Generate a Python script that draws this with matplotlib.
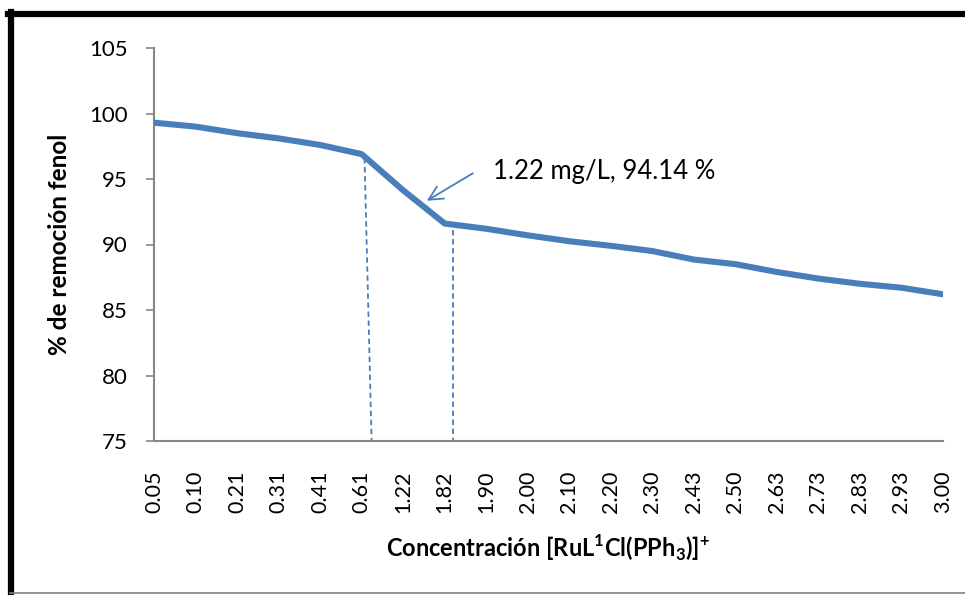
import matplotlib
matplotlib.use("Agg")
import matplotlib.pyplot as plt
from matplotlib.lines import Line2D

plt.rcParams['font.family'] = ['Lato', 'DejaVu Sans']
plt.rcParams['mathtext.fontset'] = 'custom'
plt.rcParams['mathtext.rm'] = 'Lato'
plt.rcParams['mathtext.bf'] = 'Lato:bold'

categories = ["0.05", "0.10", "0.21", "0.31", "0.41", "0.61", "1.22", "1.82", "1.90", "2.00",
              "2.10", "2.20", "2.30", "2.43", "2.50", "2.63", "2.73", "2.83", "2.93", "3.00"]
removal = [99.3, 99.0, 98.5, 98.1, 97.6, 96.9, 94.14, 91.6, 91.2, 90.7,
           90.25, 89.9, 89.5, 88.85, 88.5, 87.9, 87.4, 87.0, 86.7, 86.2]
y_ticks = [75, 80, 85, 90, 95, 100, 105]
annot_text = "1.22 mg/L, 94.14 %"

W, H = 965, 595
fig = plt.figure(figsize=(W / 100, H / 100), dpi=100)
ax = fig.add_axes([154 / W, 1 - 441 / H, (943 - 154) / W, (441 - 48) / H])

blue = '#4A7EBB'
x = list(range(len(categories)))
ax.plot(x, removal, color=blue, lw=4.4, solid_joinstyle='round', solid_capstyle='round', zorder=3)

ax.set_xlim(0, len(categories) - 1)
ax.set_ylim(75, 105)
ax.set_yticks(y_ticks)
ax.set_xticks(x)
ax.set_xticklabels(categories, rotation=90)

for s in ['top', 'right']:
    ax.spines[s].set_visible(False)
for s in ['left', 'bottom']:
    ax.spines[s].set_color('#868686')
    ax.spines[s].set_linewidth(1.5)
ax.tick_params(axis='y', length=6, width=1.2, color='#868686', labelsize=16, pad=13)
ax.tick_params(axis='x', length=0, labelsize=15.5, pad=21)

# drop lines from the steep section
i1 = categories.index("0.61")
i2 = categories.index("1.82")
ax.plot([i1 + 0.07, i1 + 0.24], [removal[i1] - 0.3, 75], color=blue, lw=1.3, ls=(0, (3, 2)), zorder=2)
ax.plot([i2 + 0.19, i2 + 0.19], [removal[i2] - 0.5, 75], color=blue, lw=1.3, ls=(0, (3, 2)), zorder=2)

# annotation arrow and text
ia = categories.index("1.22")
ax.annotate("", xy=(ia + 0.57, removal[ia] - 0.8), xytext=(ia + 1.68, removal[ia] + 1.3),
            arrowprops=dict(arrowstyle='->,head_length=1.0,head_width=0.5', color=blue, lw=1.3,
                            shrinkA=0, shrinkB=0))
ax.text(ia + 2.16, removal[ia] + 1.4, annot_text, fontsize=18.5, va='center', ha='left')

ax.set_ylabel("% de remoción fenol", fontsize=17.5, fontweight='bold', labelpad=13)
ax.set_xlabel(r"Concentración [RuL$^{\mathbf{1}}$Cl(PPh$_{\mathbf{3}}$)]$^{\mathbf{+}}$",
              fontsize=17, fontweight='bold', labelpad=14)

# figure frame
fig.add_artist(Line2D([8 / W, 1], [1 - 14 / H, 1 - 14 / H], color='black', lw=4.5, transform=fig.transFigure))
fig.add_artist(Line2D([10.5 / W, 10.5 / W], [0, 1 - 12 / H], color='black', lw=4.5, transform=fig.transFigure))
fig.add_artist(Line2D([10 / W, 1], [1 - 593 / H, 1 - 593 / H], color='#808080', lw=1.2, transform=fig.transFigure))

fig.savefig("out.png", dpi=100)
